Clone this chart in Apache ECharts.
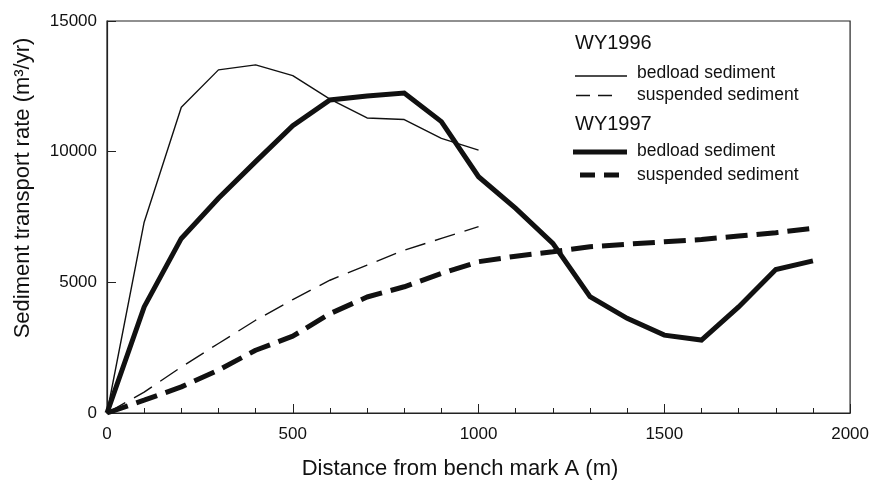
<!DOCTYPE html>
<html>
<head>
<meta charset="utf-8">
<script src="https://cdn.jsdelivr.net/npm/echarts@6/dist/echarts.min.js"></script>
<style>html,body{margin:0;padding:0;background:#fff}#c{width:872px;height:480px}</style>
</head>
<body>
<div id="c"></div>
<script>
// Distances (m)
const x1996 = [0, 100, 200, 300, 400, 500, 600, 700, 800, 900, 1000];
const x1997 = [0, 100, 200, 300, 400, 500, 600, 700, 800, 900, 1000, 1100, 1200, 1300, 1400, 1500, 1600, 1700, 1800, 1900];
// Sediment transport rate (m3/yr)
const bedload1996 = [0, 7300, 11700, 13130, 13320, 12910, 12010, 11290, 11230, 10510, 10060];
const suspended1996 = [0, 800, 1760, 2660, 3550, 4340, 5080, 5660, 6230, 6680, 7130];
const bedload1997 = [0, 4060, 6680, 8220, 9620, 10990, 11980, 12130, 12240, 11150, 9040, 7830, 6490, 4450, 3620, 2980, 2790, 4060, 5490, 5820];
const suspended1997 = [0, 490, 1000, 1640, 2400, 2940, 3800, 4440, 4830, 5340, 5790, 6000, 6170, 6360, 6460, 6550, 6640, 6770, 6900, 7070];
const xTicks = [0, 500, 1000, 1500, 2000];
const yTicks = [0, 5000, 10000, 15000];
const xTitle = 'Distance from bench mark A (m)';
const yTitle = 'Sediment transport rate (m³/yr)';
const legendHeads = ['WY1996', 'WY1997'];
const legendItems = ['bedload sediment', 'suspended sediment'];

const pair = (xs, ys) => xs.map((x, i) => [x, ys[i]]);
const FONT = '"Liberation Sans", Arial, Helvetica, sans-serif';
const INK = '#111';

const chart = echarts.init(document.getElementById('c'), null, {renderer: 'canvas'});

function legendLine(x1, x2, y, w, dash) {
  return {type: 'line', shape: {x1: x1, y1: y, x2: x2, y2: y},
    style: {stroke: INK, lineWidth: w, lineDash: dash || null}, z: 10};
}
function legendText(x, y, t, size) {
  return {type: 'text', x: x, y: y, z: 10,
    style: {text: t, fill: INK, font: size + 'px ' + FONT, align: 'left', verticalAlign: 'middle'}};
}

chart.setOption({
  animation: false,
  backgroundColor: '#fff',
  grid: {left: 107, right: 19, top: 21, bottom: 67, show: true, borderColor: '#222', borderWidth: 1.2, containLabel: false},
  xAxis: {
    type: 'value', min: 0, max: 2000, interval: 500,
    axisLine: {show: true, lineStyle: {color: '#222', width: 1.2}},
    axisTick: {show: true, inside: true, length: 9, lineStyle: {color: '#222', width: 1}},
    minorTick: {show: true, splitNumber: 5, length: 5, lineStyle: {color: '#222', width: 1}},
    splitLine: {show: false},
    axisLabel: {color: INK, fontSize: 17, fontFamily: FONT, margin: 13,
      formatter: v => xTicks.includes(v) ? String(v) : ''}
  },
  yAxis: {
    type: 'value', min: 0, max: 15000, interval: 5000,
    axisLine: {show: true, lineStyle: {color: '#222', width: 1.2}},
    axisTick: {show: true, inside: true, length: 9, lineStyle: {color: '#222', width: 1}},
    splitLine: {show: false},
    axisLabel: {color: INK, fontSize: 17, fontFamily: FONT, margin: 10,
      formatter: v => yTicks.includes(v) ? String(v) : ''}
  },
  series: [
    {name: 'WY1996 bedload sediment', type: 'line', data: pair(x1996, bedload1996), showSymbol: false, symbol: 'none',
      lineStyle: {color: INK, width: 1.4}},
    {name: 'WY1996 suspended sediment', type: 'line', data: pair(x1996, suspended1996), showSymbol: false, symbol: 'none',
      lineStyle: {color: INK, width: 1.4, type: [21, 10]}},
    {name: 'WY1997 bedload sediment', type: 'line', data: pair(x1997, bedload1997), showSymbol: false, symbol: 'none',
      lineStyle: {color: INK, width: 5, join: 'miter'}},
    {name: 'WY1997 suspended sediment', type: 'line', data: pair(x1997, suspended1997), showSymbol: false, symbol: 'none',
      lineStyle: {color: INK, width: 5, type: [22, 9]}}
  ],
  graphic: [
    {type: 'text', x: 460, y: 469, style: {text: xTitle, fill: INK, font: '22px ' + FONT, align: 'center', verticalAlign: 'middle'}},
    {type: 'text', x: 23, y: 188, rotation: Math.PI / 2, style: {text: yTitle, fill: INK, font: '22px ' + FONT, align: 'center', verticalAlign: 'middle'}},
    legendText(575, 43, legendHeads[0], 20),
    legendLine(575, 627, 76, 1.4),
    legendText(637, 73, legendItems[0], 17.5),
    legendLine(576, 612, 95.5, 1.4, [14, 8]),
    legendText(637, 95, legendItems[1], 17.5),
    legendText(575, 124.5, legendHeads[1], 20),
    legendLine(573, 627, 152, 5),
    legendText(637, 151, legendItems[0], 17.5),
    legendLine(580, 619, 175, 5, [15, 9]),
    legendText(637, 175, legendItems[1], 17.5)
  ]
});
</script>
</body>
</html>
